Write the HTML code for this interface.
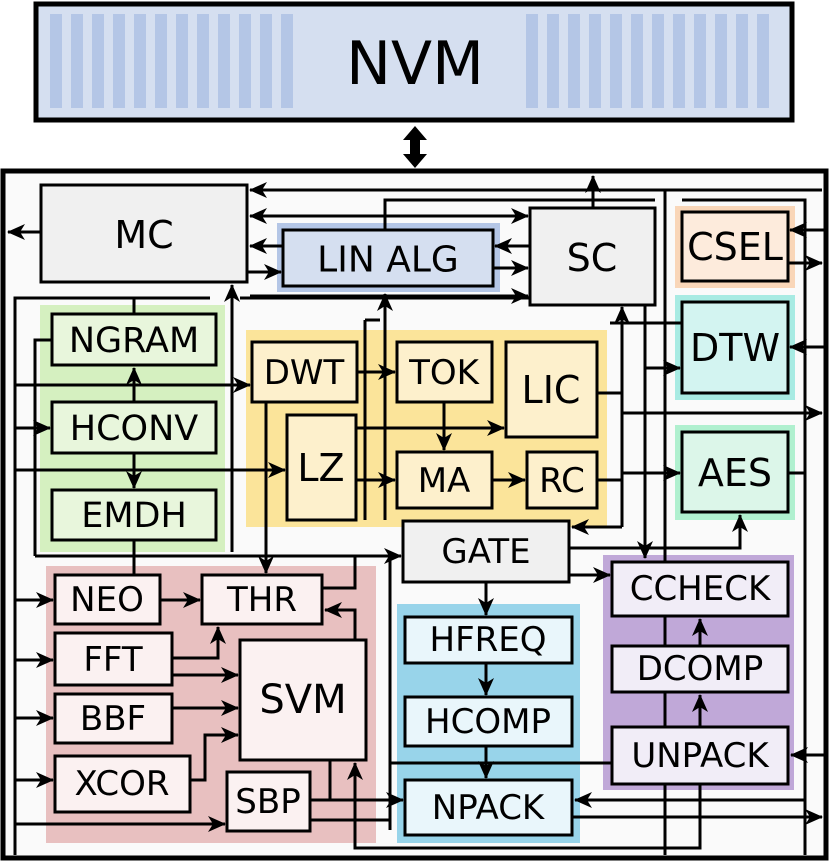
<!DOCTYPE html>
<html><head><meta charset="utf-8"><style>
html,body{margin:0;padding:0;background:#fff;}
svg{display:block;}
text{font-family:"DejaVu Sans","Liberation Sans",sans-serif;text-anchor:middle;dominant-baseline:central;fill:#000;}
</style></head><body>
<svg width="830" height="862" viewBox="0 0 830 862" xmlns="http://www.w3.org/2000/svg">
<defs>
<marker id="a" markerWidth="18" markerHeight="16" refX="17" refY="8" orient="auto" markerUnits="userSpaceOnUse"><path d="M0,0 L18,8 L0,16 L5,8 z" fill="#000"/></marker>
</defs>
<rect x="36" y="4" width="756" height="116" fill="#d5dff0" stroke="#000" stroke-width="5"/>
<g fill="#b4c6e6">
<rect x="50" y="14" width="12" height="94"/><rect x="71" y="14" width="12" height="94"/><rect x="92" y="14" width="12" height="94"/><rect x="113" y="14" width="12" height="94"/><rect x="134" y="14" width="12" height="94"/><rect x="155" y="14" width="12" height="94"/><rect x="176" y="14" width="12" height="94"/><rect x="197" y="14" width="12" height="94"/><rect x="218" y="14" width="12" height="94"/><rect x="239" y="14" width="12" height="94"/><rect x="260" y="14" width="12" height="94"/><rect x="281" y="14" width="12" height="94"/>
<rect x="526" y="14" width="12" height="94"/><rect x="547" y="14" width="12" height="94"/><rect x="568" y="14" width="12" height="94"/><rect x="589" y="14" width="12" height="94"/><rect x="610" y="14" width="12" height="94"/><rect x="631" y="14" width="12" height="94"/><rect x="652" y="14" width="12" height="94"/><rect x="673" y="14" width="12" height="94"/><rect x="694" y="14" width="12" height="94"/><rect x="715" y="14" width="12" height="94"/><rect x="736" y="14" width="12" height="94"/><rect x="757" y="14" width="12" height="94"/>
</g>
<text x="415" y="64" font-size="60">NVM</text>
<path d="M415 126 L403 140 L410 140 L410 154 L403 154 L415 168 L427 154 L420 154 L420 140 L427 140 Z" fill="#000"/>
<rect x="3" y="171" width="823" height="687" fill="#fafafa" stroke="#000" stroke-width="5"/>
<rect x="277" y="223" width="223" height="69" fill="#b4c6e6"/>
<rect x="675" y="206" width="120" height="82" fill="#f9d6b8"/>
<rect x="675" y="295" width="120" height="105" fill="#a8ebe3"/>
<rect x="675" y="425" width="120" height="95" fill="#b0f0cf"/>
<rect x="40" y="305" width="185" height="247" fill="#d5f0c0"/>
<rect x="246" y="330" width="361" height="197" fill="#fbe49a"/>
<rect x="46" y="566" width="330" height="277" fill="#e8c0c0"/>
<rect x="397" y="604" width="183" height="239" fill="#98d4ea"/>
<rect x="603" y="555" width="191" height="235" fill="#c0a8d8"/>
<g stroke="#000" stroke-width="3" fill="none">
<line x1="41" y1="232" x2="8" y2="232" marker-end="url(#a)"/>
<line x1="822" y1="190" x2="250" y2="190" marker-end="url(#a)"/>
<line x1="528" y1="216" x2="250" y2="216" marker-end="url(#a)"/>
<line x1="283" y1="246" x2="250" y2="246" marker-end="url(#a)"/>
<line x1="247" y1="272" x2="281" y2="272" marker-end="url(#a)"/>
<polyline points="385,230 385,200 655,200"/>
<line x1="593" y1="208" x2="593" y2="176" marker-end="url(#a)"/>
<line x1="400" y1="216" x2="528" y2="216" marker-end="url(#a)"/>
<line x1="493" y1="268" x2="528" y2="268" marker-end="url(#a)"/>
<line x1="250" y1="296" x2="528" y2="296" marker-end="url(#a)"/>
<line x1="530" y1="246" x2="495" y2="246" marker-end="url(#a)"/>
<polyline points="15,855 15,298 210,298"/>
<line x1="240" y1="298" x2="610" y2="298"/>
<line x1="385" y1="520" x2="385" y2="294" marker-end="url(#a)"/>
<line x1="232" y1="552" x2="232" y2="285" marker-end="url(#a)"/>
<polyline points="52,340 35,340 35,556"/>
<line x1="15" y1="428" x2="50" y2="428" marker-end="url(#a)"/>
<line x1="15" y1="385" x2="250" y2="385" marker-end="url(#a)"/>
<line x1="15" y1="470" x2="285" y2="470" marker-end="url(#a)"/>
<line x1="134" y1="402" x2="134" y2="368" marker-end="url(#a)"/>
<line x1="134" y1="453" x2="134" y2="488" marker-end="url(#a)"/>
<line x1="134" y1="298" x2="134" y2="314"/>
<line x1="134" y1="540" x2="134" y2="575"/>
<line x1="357" y1="372" x2="395" y2="372" marker-end="url(#a)"/>
<line x1="356" y1="480" x2="395" y2="480" marker-end="url(#a)"/>
<line x1="444" y1="402" x2="444" y2="450" marker-end="url(#a)"/>
<line x1="356" y1="428" x2="504" y2="428" marker-end="url(#a)"/>
<line x1="492" y1="480" x2="525" y2="480" marker-end="url(#a)"/>
<line x1="365" y1="320" x2="365" y2="520"/>
<polyline points="365,320 380,320"/>
<line x1="597" y1="393" x2="622" y2="393"/>
<line x1="597" y1="480" x2="622" y2="480"/>
<line x1="622" y1="527" x2="622" y2="307" marker-end="url(#a)"/>
<line x1="622" y1="527" x2="572" y2="527" marker-end="url(#a)"/>
<line x1="622" y1="413" x2="822" y2="413" marker-end="url(#a)"/>
<line x1="622" y1="473" x2="680" y2="473" marker-end="url(#a)"/>
<line x1="645" y1="305" x2="645" y2="558" marker-end="url(#a)"/>
<line x1="645" y1="368" x2="680" y2="368" marker-end="url(#a)"/>
<line x1="610" y1="323" x2="682" y2="323"/>
<line x1="665" y1="190" x2="665" y2="855"/>
<polyline points="682,200 805,200 805,855"/>
<line x1="826" y1="230" x2="790" y2="230" marker-end="url(#a)"/>
<line x1="788" y1="263" x2="822" y2="263" marker-end="url(#a)"/>
<line x1="826" y1="347" x2="790" y2="347" marker-end="url(#a)"/>
<line x1="788" y1="473" x2="805" y2="473"/>
<line x1="35" y1="556" x2="401" y2="556" marker-end="url(#a)"/>
<line x1="486" y1="582" x2="486" y2="615" marker-end="url(#a)"/>
<line x1="569" y1="575" x2="610" y2="575" marker-end="url(#a)"/>
<polyline points="569,548 740,548 740,515" marker-end="url(#a)"/>
<line x1="486" y1="663" x2="486" y2="695" marker-end="url(#a)"/>
<line x1="486" y1="746" x2="486" y2="778" marker-end="url(#a)"/>
<line x1="390" y1="763" x2="612" y2="763"/>
<line x1="390" y1="556" x2="390" y2="830"/>
<line x1="266" y1="402" x2="266" y2="573" marker-end="url(#a)"/>
<line x1="160" y1="600" x2="200" y2="600" marker-end="url(#a)"/>
<line x1="15" y1="600" x2="53" y2="600" marker-end="url(#a)"/>
<line x1="15" y1="660" x2="53" y2="660" marker-end="url(#a)"/>
<line x1="15" y1="718" x2="53" y2="718" marker-end="url(#a)"/>
<line x1="15" y1="780" x2="53" y2="780" marker-end="url(#a)"/>
<line x1="15" y1="824" x2="225" y2="824" marker-end="url(#a)"/>
<polyline points="172,658 218,658 218,627" marker-end="url(#a)"/>
<line x1="172" y1="675" x2="238" y2="675" marker-end="url(#a)"/>
<line x1="172" y1="708" x2="238" y2="708" marker-end="url(#a)"/>
<polyline points="190,780 205,780 205,735 238,735" marker-end="url(#a)"/>
<polyline points="355,640 355,610 325,610" marker-end="url(#a)"/>
<polyline points="322,588 355,588 355,556"/>
<line x1="310" y1="800" x2="403" y2="800" marker-end="url(#a)"/>
<line x1="330" y1="760" x2="330" y2="800"/>
<line x1="310" y1="820" x2="390" y2="820"/>
<polyline points="700,784 700,848 355,848 355,763" marker-end="url(#a)"/>
<line x1="805" y1="800" x2="575" y2="800" marker-end="url(#a)"/>
<line x1="572" y1="817" x2="822" y2="817" marker-end="url(#a)"/>
<line x1="826" y1="755" x2="791" y2="755" marker-end="url(#a)"/>
<line x1="700" y1="727" x2="700" y2="695" marker-end="url(#a)"/>
<line x1="700" y1="646" x2="700" y2="619" marker-end="url(#a)"/>
</g>
<g stroke="#000" stroke-width="3">
<rect x="41" y="185" width="206" height="97" fill="#f0f0f0"/>
<rect x="283" y="230" width="210" height="56" fill="#d5dff0"/>
<rect x="530" y="208" width="125" height="97" fill="#f0f0f0"/>
<rect x="682" y="212" width="106" height="69" fill="#fdebdc"/>
<rect x="682" y="302" width="106" height="91" fill="#d3f4f1"/>
<rect x="682" y="432" width="106" height="80" fill="#dcf6e9"/>
<rect x="52" y="314" width="164" height="51" fill="#e8f6dc"/>
<rect x="52" y="402" width="164" height="51" fill="#e8f6dc"/>
<rect x="52" y="490" width="164" height="50" fill="#e8f6dc"/>
<rect x="252" y="342" width="105" height="60" fill="#fdf0cc"/>
<rect x="287" y="415" width="69" height="105" fill="#fdf0cc"/>
<rect x="397" y="342" width="95" height="60" fill="#fdf0cc"/>
<rect x="506" y="342" width="91" height="95" fill="#fdf0cc"/>
<rect x="397" y="452" width="95" height="56" fill="#fdf0cc"/>
<rect x="527" y="452" width="70" height="56" fill="#fdf0cc"/>
<rect x="403" y="521" width="166" height="61" fill="#f0f0f0"/>
<rect x="55" y="575" width="105" height="49" fill="#fbf1f1"/>
<rect x="202" y="575" width="120" height="49" fill="#fbf1f1"/>
<rect x="55" y="633" width="117" height="52" fill="#fbf1f1"/>
<rect x="55" y="694" width="117" height="49" fill="#fbf1f1"/>
<rect x="55" y="756" width="135" height="56" fill="#fbf1f1"/>
<rect x="240" y="640" width="126" height="120" fill="#fbf1f1"/>
<rect x="227" y="772" width="83" height="59" fill="#fbf1f1"/>
<rect x="405" y="617" width="167" height="46" fill="#e9f6fb"/>
<rect x="405" y="697" width="167" height="49" fill="#e9f6fb"/>
<rect x="405" y="780" width="167" height="55" fill="#e9f6fb"/>
<rect x="612" y="562" width="176" height="54" fill="#f1edf7"/>
<rect x="612" y="646" width="176" height="46" fill="#f1edf7"/>
<rect x="612" y="727" width="176" height="57" fill="#f1edf7"/>
</g>
<g font-size="38">
<text x="144" y="235">MC</text>
<text x="388" y="260" font-size="36">LIN ALG</text>
<text x="592" y="258">SC</text>
<text x="735" y="247">CSEL</text>
<text x="735" y="348">DTW</text>
<text x="735" y="473">AES</text>
<text x="134" y="341" font-size="35">NGRAM</text>
<text x="134" y="429" font-size="35">HCONV</text>
<text x="134" y="516" font-size="35">EMDH</text>
<text x="304" y="373" font-size="34">DWT</text>
<text x="321" y="468">LZ</text>
<text x="444" y="373" font-size="34">TOK</text>
<text x="551" y="390">LIC</text>
<text x="444" y="481" font-size="34">MA</text>
<text x="562" y="481" font-size="34">RC</text>
<text x="486" y="552" font-size="34">GATE</text>
<text x="107" y="600" font-size="34">NEO</text>
<text x="262" y="600" font-size="34">THR</text>
<text x="113" y="660" font-size="34">FFT</text>
<text x="113" y="719" font-size="34">BBF</text>
<text x="122" y="784" font-size="34">XCOR</text>
<text x="303" y="700" font-size="40">SVM</text>
<text x="268" y="802" font-size="34">SBP</text>
<text x="488" y="640" font-size="34">HFREQ</text>
<text x="488" y="722" font-size="34">HCOMP</text>
<text x="488" y="808" font-size="34">NPACK</text>
<text x="700" y="589" font-size="34">CCHECK</text>
<text x="700" y="669" font-size="34">DCOMP</text>
<text x="700" y="756" font-size="34">UNPACK</text>
</g>
</svg>
</body></html>
